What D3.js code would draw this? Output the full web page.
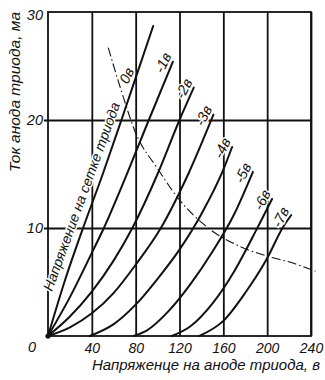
<!DOCTYPE html>
<html><head><meta charset="utf-8">
<script src="https://cdn.jsdelivr.net/npm/d3@7/dist/d3.min.js"></script>
<style>
body{margin:0;background:#fff}
svg{display:block}
text{font-family:"Liberation Sans",Arial,sans-serif;font-style:italic;fill:#111}
</style></head><body>
<svg id="chart" width="325" height="380"></svg>
<script>
// ---- data (anode voltage, V ; anode current, mA) ----
const gridLabels = ["0в","-1в","-2в","-3в","-4в","-5в","-6в","-7в"];
const curveG0 = [[0,0],[15,5],[32,10],[50,15],[67,20],[82,24.5],[96,28.7]];
const curveG1 = [[0,0],[20,3.6],[40,7.7],[51,10],[70,14.5],[92,20],[114,25.4]];
const curveG2 = [[0,0],[20,1.8],[40,4.1],[60,7],[77,10],[100,15],[120,20],[133,23]];
const curveG3 = [[0,0],[20,0.8],[40,2.1],[60,4],[80,6.6],[103,10],[128,15],[151,20.5]];
const curveG4 = [[38,0],[60,1.1],[80,2.9],[100,5.3],[120,8],[140,11.3],[160,15.4],[168,17.5]];
const curveG5 = [[78,0],[90,0.5],[110,2.3],[130,4.8],[150,7.8],[170,11.3],[187,15.2]];
const curveG6 = [[113,0],[130,0.9],[150,3],[170,6],[190,9.8],[204.5,12.7]];
const curveG7 = [[138,0],[160,1.4],[180,4],[200,7.2],[214,10],[222,11.2]];
const labelCurrent = [24.2, 25.4, 23, 20.5, 17.5, 15.2, 12.7, 11.1];
const dissipation = [[55,26.7],[66,23],[80,18.8],[100,15.5],[120,12.6],[145,10.1],[175,8.3],[200,7.4],[222,6.8],[244,6.0]];
const xTicks = [40,80,120,160,200,240];
const yTicks = [0,10,20,30];
const xTitle = "Напряженце на аноде триода, в";
const yTitle = "Ток анода триода, ма";
const gridTitle = "Напряжение на сетке триода";

const curves = [curveG0,curveG1,curveG2,curveG3,curveG4,curveG5,curveG6,curveG7];

const svg = d3.select("#chart");
const x = d3.scaleLinear().domain([0,240]).range([48,311]);
const y = d3.scaleLinear().domain([0,30]).range([336,12]);
const ink = "#111";

// frame
svg.append("rect").attr("x",x(0)).attr("y",y(30)).attr("width",x(240)-x(0)).attr("height",y(0)-y(30))
  .attr("fill","none").attr("stroke",ink).attr("stroke-width",1.8);

// x axis with grid
const gx = svg.append("g").attr("transform",`translate(0,${y(0)})`)
  .call(d3.axisBottom(x).tickValues(xTicks).tickSize(-(y(0)-y(30))).tickPadding(7).tickFormat(d3.format("d")));
gx.select(".domain").remove();
gx.selectAll(".tick line").attr("stroke",ink).attr("stroke-width",1.8);
gx.selectAll(".tick text").attr("font-size",14).attr("fill",ink);

// y axis with grid
const gy = svg.append("g").attr("transform",`translate(${x(0)},0)`)
  .call(d3.axisLeft(y).tickValues(yTicks).tickSize(-(x(240)-x(0))).tickPadding(5).tickFormat(d3.format("d")));
gy.select(".domain").remove();
gy.selectAll(".tick line").attr("x1",-4).attr("stroke",ink).attr("stroke-width",1.8)
  .filter(d=>d===0||d===30).remove();
gy.selectAll(".tick text").attr("font-size",14.5).attr("fill",ink)
  .filter(d=>d===0).attr("x",-12).attr("dy","1.05em");
gy.selectAll(".tick text").filter(d=>d===30).attr("dy","0.55em");

// dissipation dash-dot curve
svg.append("path").datum(dissipation)
  .attr("d",d3.line().x(d=>x(d[0])).y(d=>y(d[1])).curve(d3.curveMonotoneX))
  .attr("fill","none").attr("stroke",ink).attr("stroke-width",1.1)
  .attr("stroke-dasharray","9,3,1.5,3");

// grid-voltage characteristic curves
const line = d3.line().x(d=>x(d[0])).y(d=>y(d[1])).curve(d3.curveMonotoneX);
svg.append("g").selectAll("path").data(curves).join("path")
  .attr("d",line).attr("fill","none").attr("stroke",ink).attr("stroke-width",2)
  .attr("stroke-linecap","round");

// origin dot
svg.append("circle").attr("cx",x(0)).attr("cy",y(0)).attr("r",2.6).attr("fill",ink);

// curve labels
function voltageAt(c, cur){
  for(let i=1;i<c.length;i++){
    if(c[i][1]>=cur){const a=c[i-1],b=c[i];return a[0]+(b[0]-a[0])*(cur-a[1])/(b[1]-a[1]);}
  }
  return c[c.length-1][0];
}
svg.append("g").selectAll("text").data(gridLabels).join("text")
  .attr("transform",(d,i)=>`translate(${x(voltageAt(curves[i],labelCurrent[i]))-10},${y(labelCurrent[i])+1}) rotate(-64)`)
  .attr("text-anchor","middle").attr("dominant-baseline","central")
  .attr("font-size",14.5)
  .attr("stroke","#fff").attr("stroke-width",3).attr("paint-order","stroke")
  .text(d=>d);

// label along 0в line
svg.append("text")
  .attr("transform",`translate(${x(0)+4},${y(0)-44}) rotate(-70)`)
  .attr("font-size",14)
  .attr("stroke","#fff").attr("stroke-width",3).attr("paint-order","stroke")
  .text(gridTitle);

// axis titles
svg.append("text").attr("x",320).attr("y",370).attr("text-anchor","end").attr("font-size",15).text(xTitle);
svg.append("text").attr("transform","translate(20,12) rotate(-90)").attr("text-anchor","end").attr("font-size",15.5).text(yTitle);
</script>
</body></html>
